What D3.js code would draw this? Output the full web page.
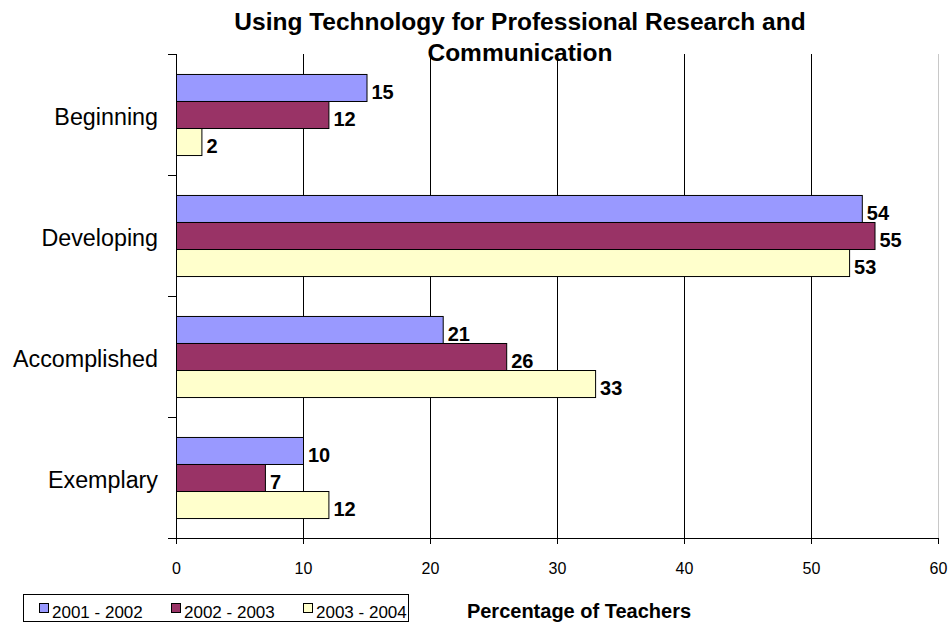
<!DOCTYPE html>
<html><head><meta charset="utf-8">
<script src="https://cdn.jsdelivr.net/npm/d3@7"></script>
<style>body{margin:0;background:#fff;font-family:Arial,"Liberation Sans",sans-serif;}</style>
</head><body>
<svg id="c" width="952" height="626"></svg>
<script>
const categories = ["Beginning", "Developing", "Accomplished", "Exemplary"];
const seriesNames = ["2001 - 2002", "2002 - 2003", "2003 - 2004"];
const s2001 = [15, 54, 21, 10];
const s2002 = [12, 55, 26, 7];
const s2003 = [2, 53, 33, 12];
const xTicks = [0, 10, 20, 30, 40, 50, 60];
const colors = ["#9999FF", "#993366", "#FFFFCC"];
const titleLines = ["Using Technology for Professional Research and", "Communication"];
const xTitle = "Percentage of Teachers";

const series = [s2001, s2002, s2003];
const svg = d3.select("#c");
const L = 176, R = 938, T = 54, B = 538;
const x = d3.scaleLinear().domain([0, 60]).range([L, R]);
const y = d3.scaleBand().domain(categories).range([T, B]).paddingInner(0.33).paddingOuter(0.165);
const ys = d3.scaleBand().domain(d3.range(3)).range([0, y.bandwidth()]);

// title
svg.append("g").selectAll("text").data(titleLines).join("text")
  .attr("x", 520).attr("y", (d, i) => 30 + i * 31)
  .attr("text-anchor", "middle").attr("font-weight", "bold").attr("font-size", 24.5)
  .text(d => d);

// gridlines
svg.append("g").selectAll("line").data(xTicks.filter(d => d > 0)).join("line")
  .attr("x1", d => Math.round(x(d)) + 0.5).attr("x2", d => Math.round(x(d)) + 0.5)
  .attr("y1", T).attr("y2", B)
  .attr("stroke", d => d === 60 ? "#c8c8c8" : "#000").attr("stroke-width", 1);

// bars
const g = svg.append("g");
categories.forEach((c, ci) => {
  series.forEach((s, si) => {
    const y0 = y(c) + ys(si);
    g.append("rect")
      .attr("x", x(0) + 0.5).attr("y", y0 + 0.5)
      .attr("width", x(s[ci]) - x(0)).attr("height", ys.bandwidth())
      .attr("fill", colors[si]).attr("stroke", "#000").attr("stroke-width", 1);
    g.append("text")
      .attr("x", x(s[ci]) + 5).attr("y", y0 + ys.bandwidth() / 2 + 11.5)
      .attr("font-weight", "bold").attr("font-size", 20)
      .text(s[ci]);
  });
});

// y axis
const yAxis = svg.append("g");
yAxis.append("line").attr("x1", L + 0.5).attr("x2", L + 0.5).attr("y1", T).attr("y2", B).attr("stroke", "#000");
const bounds = d3.range(categories.length + 1).map(i => T + i * (B - T) / categories.length);
yAxis.selectAll("line.t").data(bounds).join("line").attr("class", "t")
  .attr("x1", L - 8).attr("x2", L).attr("y1", d => Math.round(d) + 0.5).attr("y2", d => Math.round(d) + 0.5)
  .attr("stroke", "#000");
yAxis.selectAll("text").data(categories).join("text")
  .attr("x", 158).attr("y", d => y(d) + y.bandwidth() / 2 + 10.5)
  .attr("text-anchor", "end")
  .attr("font-size", 23.3).text(d => d);

// x axis
const xAxis = svg.append("g").attr("transform", `translate(0,${B})`)
  .call(d3.axisBottom(x).tickValues(xTicks).tickSizeInner(6).tickSizeOuter(0).tickPadding(19));
xAxis.select(".domain").attr("d", `M${L - 8},0.5H${R}`);
xAxis.selectAll("text").attr("font-size", 16).attr("font-family", "Arial, 'Liberation Sans', sans-serif");

// axis title
svg.append("text").attr("x", 579).attr("y", 618).attr("text-anchor", "middle")
  .attr("font-weight", "bold").attr("font-size", 20).text(xTitle);

// legend
const lg = svg.append("g");
lg.append("rect").attr("x", 23.5).attr("y", 594.5).attr("width", 385).attr("height", 27)
  .attr("fill", "#fff").attr("stroke", "#000");
const lx = [39, 171, 303];
seriesNames.forEach((n, i) => {
  lg.append("rect").attr("x", lx[i] + 0.5).attr("y", 603.5).attr("width", 9).attr("height", 9)
    .attr("fill", colors[i]).attr("stroke", "#000");
  lg.append("text").attr("x", lx[i] + 13).attr("y", 617.5).attr("font-size", 17).text(n);
});
</script>
</body></html>
